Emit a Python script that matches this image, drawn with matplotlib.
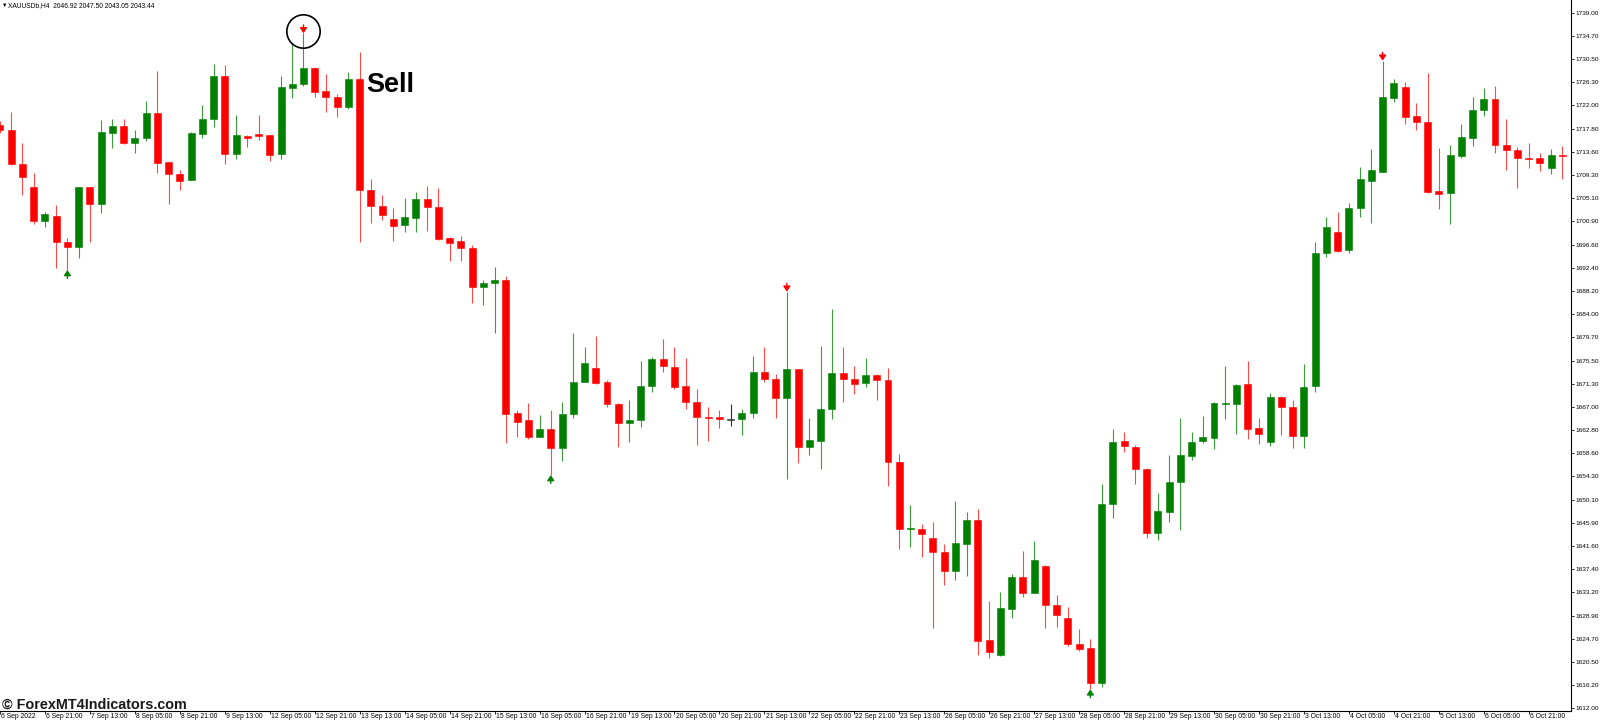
import matplotlib
matplotlib.use("Agg")
import matplotlib.pyplot as plt
from matplotlib.transforms import ScaledTranslation

# ---------------- data (XAUUSD H4) ----------------
opens = [1718.50, 1717.58, 1711.38, 1707.12, 1701.02, 1701.88, 1697.08, 1696.28, 1707.12, 1704.13,
         1717.09, 1718.32, 1715.27, 1716.07, 1720.74, 1711.69, 1709.61, 1708.46, 1716.91, 1719.59,
         1727.44, 1713.20, 1716.54, 1716.80, 1716.67, 1713.15, 1725.20, 1725.93, 1728.96, 1724.76,
         1723.66, 1721.84, 1726.90, 1706.63, 1703.76, 1701.34, 1700.24, 1701.57, 1704.93, 1703.53,
         1697.81, 1697.28, 1696.10, 1688.86, 1689.60, 1690.20, 1665.97, 1664.64, 1661.59, 1662.94,
         1659.58, 1665.73, 1671.63, 1674.08, 1671.63, 1667.61, 1664.03, 1664.64, 1670.84, 1675.72,
         1674.37, 1670.84, 1667.87, 1665.24, 1665.13, 1664.76, 1664.76, 1665.86, 1673.40, 1672.07,
         1668.71, 1673.89, 1659.65, 1660.86, 1666.59, 1673.22, 1672.12, 1671.34, 1672.85, 1671.88,
         1656.97, 1644.70, 1644.79, 1643.15, 1640.54, 1637.07, 1642.05, 1646.43, 1624.41, 1621.73,
         1630.18, 1635.92, 1633.10, 1637.98, 1630.91, 1628.49, 1623.74, 1623.01, 1616.67, 1649.30,
         1660.75, 1659.76, 1655.74, 1643.95, 1647.89, 1653.26, 1658.12, 1660.80, 1661.41, 1667.61,
         1667.61, 1671.15, 1663.12, 1660.57, 1668.89, 1667.06, 1661.72, 1670.84, 1695.07, 1698.91,
         1695.68, 1703.29, 1708.33, 1709.97, 1723.48, 1725.44, 1720.09, 1719.05, 1706.50, 1706.03,
         1712.84, 1716.07, 1721.24, 1723.19, 1714.79, 1713.93, 1712.47, 1712.50, 1710.60, 1713.10]
highs = [1719.20, 1720.93, 1715.16, 1709.68, 1702.61, 1703.95, 1697.81, 1707.23, 1707.20, 1719.41,
         1719.59, 1719.54, 1717.58, 1722.93, 1728.36, 1711.80, 1710.28, 1717.17, 1722.09, 1729.64,
         1729.45, 1720.38, 1716.70, 1720.27, 1716.70, 1727.50, 1733.52, 1735.24, 1729.00, 1727.75,
         1724.10, 1728.23, 1731.88, 1708.64, 1705.72, 1703.29, 1705.22, 1706.21, 1707.27, 1706.94,
         1698.14, 1698.32, 1696.50, 1690.20, 1692.57, 1690.93, 1666.46, 1667.80, 1665.49, 1666.46,
         1667.92, 1680.47, 1677.91, 1679.97, 1671.94, 1667.70, 1668.29, 1675.46, 1676.08, 1679.42,
         1678.02, 1676.01, 1670.35, 1667.06, 1666.46, 1667.56, 1666.59, 1676.32, 1678.02, 1672.98,
         1688.06, 1674.00, 1664.95, 1678.15, 1684.90, 1678.02, 1674.55, 1675.96, 1673.04, 1674.19,
         1658.43, 1649.12, 1645.65, 1645.96, 1642.00, 1649.85, 1647.89, 1648.39, 1631.59, 1633.18,
         1636.52, 1640.72, 1642.49, 1638.10, 1632.69, 1630.55, 1626.48, 1624.60, 1652.90, 1662.94,
         1662.50, 1660.07, 1655.80, 1651.25, 1658.25, 1664.95, 1662.39, 1665.37, 1667.98, 1674.50,
         1671.15, 1675.46, 1664.95, 1669.51, 1669.00, 1668.29, 1674.86, 1697.14, 1701.65, 1702.67,
         1704.31, 1710.88, 1714.12, 1730.24, 1726.84, 1726.29, 1722.57, 1727.94, 1714.35, 1714.85,
         1718.68, 1723.55, 1725.20, 1725.62, 1719.59, 1714.43, 1715.27, 1713.40, 1714.10, 1714.60]
lows = [1717.00, 1711.19, 1705.72, 1700.42, 1699.93, 1692.44, 1692.02, 1694.27, 1697.08, 1702.38,
        1714.24, 1715.10, 1713.44, 1715.58, 1709.79, 1704.02, 1706.63, 1708.40, 1716.18, 1718.13,
        1711.38, 1712.29, 1714.54, 1715.76, 1711.92, 1712.24, 1723.37, 1725.62, 1723.66, 1720.93,
        1720.01, 1721.36, 1697.08, 1700.66, 1701.15, 1697.37, 1698.91, 1698.91, 1699.14, 1697.50,
        1693.72, 1693.63, 1686.05, 1685.63, 1680.47, 1660.38, 1661.48, 1661.22, 1661.50, 1654.59,
        1657.20, 1664.95, 1671.50, 1671.30, 1666.95, 1659.65, 1660.67, 1663.41, 1669.80, 1673.46,
        1670.35, 1666.70, 1660.02, 1660.80, 1663.12, 1663.60, 1661.84, 1665.06, 1671.52, 1665.06,
        1653.86, 1656.84, 1658.19, 1655.64, 1664.76, 1667.98, 1669.38, 1670.61, 1668.29, 1652.68,
        1641.14, 1641.50, 1639.68, 1626.60, 1634.51, 1635.42, 1636.21, 1621.68, 1621.13, 1621.60,
        1628.54, 1632.37, 1633.00, 1626.60, 1626.79, 1623.43, 1622.52, 1615.47, 1615.94, 1646.83,
        1658.85, 1652.95, 1643.04, 1642.73, 1646.07, 1644.55, 1657.33, 1660.38, 1659.29, 1664.82,
        1662.03, 1661.11, 1660.20, 1659.94, 1661.90, 1659.58, 1659.58, 1669.69, 1694.45, 1695.37,
        1695.18, 1701.76, 1700.55, 1709.90, 1722.75, 1718.63, 1717.58, 1706.14, 1703.11, 1700.42,
        1712.42, 1714.72, 1720.14, 1713.44, 1710.28, 1706.94, 1710.70, 1710.10, 1709.60, 1708.70]
closes = [1717.58, 1711.32, 1708.95, 1701.02, 1702.19, 1697.08, 1696.22, 1707.12, 1704.13, 1717.17,
          1718.32, 1715.27, 1716.12, 1720.74, 1711.56, 1709.55, 1708.33, 1717.04, 1719.59, 1727.44,
          1713.20, 1716.67, 1716.12, 1716.54, 1713.07, 1725.38, 1725.98, 1728.96, 1724.58, 1723.66,
          1721.84, 1726.90, 1706.63, 1703.76, 1702.07, 1700.11, 1701.76, 1704.93, 1703.53, 1697.68,
          1696.99, 1696.08, 1688.92, 1689.65, 1690.20, 1665.73, 1664.33, 1661.59, 1662.94, 1659.58,
          1665.73, 1671.63, 1674.99, 1671.45, 1667.56, 1664.03, 1664.64, 1670.90, 1675.83, 1674.50,
          1670.61, 1667.87, 1665.18, 1665.06, 1664.87, 1664.76, 1665.97, 1673.40, 1672.07, 1668.60,
          1673.89, 1659.76, 1660.93, 1666.59, 1673.22, 1672.07, 1671.21, 1672.85, 1671.94, 1656.97,
          1644.74, 1644.90, 1643.82, 1640.48, 1637.07, 1642.12, 1646.43, 1624.34, 1622.33, 1630.31,
          1635.92, 1633.10, 1639.02, 1630.86, 1629.09, 1623.68, 1622.88, 1616.67, 1649.30, 1660.71,
          1659.89, 1655.74, 1643.95, 1648.02, 1653.37, 1658.25, 1660.57, 1661.48, 1667.69, 1667.80,
          1670.97, 1663.05, 1662.08, 1668.89, 1667.06, 1661.72, 1670.61, 1695.07, 1699.82, 1695.58,
          1703.29, 1708.58, 1710.28, 1723.55, 1726.11, 1720.01, 1718.99, 1706.32, 1705.95, 1713.02,
          1716.25, 1721.24, 1723.19, 1714.85, 1713.93, 1712.42, 1712.35, 1711.60, 1713.00, 1712.95]

sell_arrow_bars = [27, 70, 123]
buy_arrow_bars = [6, 49, 97]
circled_bar = 27

time_labels = ["6 Sep 2022", "6 Sep 21:00", "7 Sep 13:00", "8 Sep 05:00", "8 Sep 21:00",
               "9 Sep 13:00", "12 Sep 05:00", "12 Sep 21:00", "13 Sep 13:00", "14 Sep 05:00",
               "14 Sep 21:00", "15 Sep 13:00", "16 Sep 05:00", "16 Sep 21:00", "19 Sep 13:00",
               "20 Sep 05:00", "20 Sep 21:00", "21 Sep 13:00", "22 Sep 05:00", "22 Sep 21:00",
               "23 Sep 13:00", "26 Sep 05:00", "26 Sep 21:00", "27 Sep 13:00", "28 Sep 05:00",
               "28 Sep 21:00", "29 Sep 13:00", "30 Sep 05:00", "30 Sep 21:00", "3 Oct 13:00",
               "4 Oct 05:00", "4 Oct 21:00", "5 Oct 13:00", "6 Oct 05:00", "6 Oct 21:00"]
label_step = 4

price_labels = ["1612.00", "1616.20", "1620.50", "1624.70", "1628.90", "1633.20", "1637.40",
                "1641.60", "1645.90", "1650.10", "1654.30", "1658.60", "1662.80", "1667.00",
                "1671.30", "1675.50", "1679.70", "1684.00", "1688.20", "1692.40", "1696.60",
                "1700.90", "1705.10", "1709.30", "1713.60", "1717.80", "1722.00", "1726.30",
                "1730.50", "1734.70", "1739.00"]
price_min, price_max = 1612.0, 1739.0

header = "XAUUSDb,H4  2046.92 2047.50 2043.05 2043.44"
copyright_text = "\u00a9 ForexMT4Indicators.com"

# ---------------- style ----------------
BULL = "#008000"
BEAR = "#ff0000"
BULL_WICK = "#3c9c3c"
BEAR_WICK = "#ff4a4a"
DOJI = "#303030"
FONT = ["Liberation Sans", "DejaVu Sans"]

W, H = 1600, 720
fig = plt.figure(figsize=(W / 100, H / 100), dpi=100)
fig.patch.set_facecolor("white")
ax = fig.add_axes([0, 9 / H, 1571 / W, 711 / H])
ax.set_facecolor("white")

n = len(opens)
xs = list(range(n))
for i in xs:
    o, h, l, c = opens[i], highs[i], lows[i], closes[i]
    if c > o:
        col, wcol = BULL, BULL_WICK
    elif c < o:
        col, wcol = BEAR, BEAR_WICK
    else:
        col, wcol = DOJI, DOJI
    ax.vlines(i, l, h, color=wcol, linewidth=0.8, zorder=2)
    bottom = min(o, c)
    height = max(abs(c - o), 0.17)
    ax.bar(i, height, bottom=bottom - (0.085 if abs(c - o) < 0.17 else 0), width=0.62,
           color=col, edgecolor=col, linewidth=0.4, zorder=3)

for i in sell_arrow_bars:
    ax.annotate("", xy=(i, highs[i]), xytext=(0, 6.0), textcoords="offset points",
                arrowprops=dict(arrowstyle="-|>,head_length=0.45,head_width=0.3", color=BEAR,
                                lw=1.0, shrinkA=0, shrinkB=0, mutation_scale=7), zorder=4)
for i in buy_arrow_bars:
    ax.annotate("", xy=(i, lows[i]), xytext=(0, -6.0), textcoords="offset points",
                arrowprops=dict(arrowstyle="-|>,head_length=0.45,head_width=0.3", color=BULL,
                                lw=1.0, shrinkA=0, shrinkB=0, mutation_scale=7), zorder=4)

ax.plot([circled_bar], [highs[circled_bar] + 0.42], marker="o", ms=24, mfc="none",
        mec="black", mew=1.2, zorder=5)
ax.text(32.6, 1724.58, "Sell", fontsize=19.5, fontweight="bold", family=FONT,
        ha="left", va="baseline", color="black", zorder=6)

# ---------------- axes ----------------
ax.set_xlim(0, 139.76)
ax.set_ylim(1611.51, 1741.32)

for s in ("left", "top"):
    ax.spines[s].set_visible(False)
for s in ("right", "bottom"):
    ax.spines[s].set_color("black")
    ax.spines[s].set_linewidth(0.8)

yt = [price_min + k * (price_max - price_min) / (len(price_labels) - 1) for k in range(len(price_labels))]
ax.yaxis.tick_right()
ax.set_yticks(yt)
ax.set_yticklabels(price_labels, family=FONT)
ax.tick_params(axis="y", direction="out", length=2.2, width=0.6, pad=1.2,
               labelsize=4.65, colors="black")

xt = [k * label_step for k in range(len(time_labels))]
ax.set_xticks(xt)
ax.set_xticklabels(time_labels, ha="left", family=FONT)
ax.tick_params(axis="x", direction="out", length=2.5, width=0.6, pad=-1.0,
               labelsize=4.9, colors="black")
for lbl in ax.get_xticklabels():
    lbl.set_transform(lbl.get_transform() + ScaledTranslation(1.2 / 100, 0, fig.dpi_scale_trans))

# ---------------- texts ----------------
fig.text(1.5 / W, 1 - 5.6 / H, "\u25bc", fontsize=4.0, family=FONT, ha="left", va="center",
         color="black")
fig.text(8.3 / W, 1 - 5.3 / H, header, fontsize=4.8, family=FONT, ha="left", va="center",
         color="black")
fig.text(2 / W, (H - 708.5) / H, copyright_text, fontsize=10.4, fontweight="bold", family=FONT,
         ha="left", va="baseline", color="#1a1a1a")

fig.savefig("out.png", dpi=100, facecolor="white")
